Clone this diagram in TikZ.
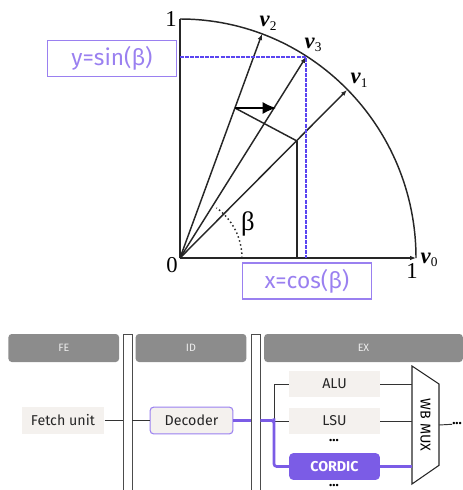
\documentclass[tikz,border=0pt]{standalone}
\usepackage{xcolor}
\usepackage{fontspec}
\setmainfont{Liberation Serif}
\setsansfont{Fira Sans}
\usepackage{tikz}
\usetikzlibrary{arrows.meta,positioning,calc}
\definecolor{CordicPurple}{HTML}{7B5CE6}
\definecolor{LabelPurple}{HTML}{9A80F0}
\definecolor{StageGray}{HTML}{8C8C8C}
\definecolor{UnitLight}{HTML}{F4F1EE}
\definecolor{GuideBlue}{HTML}{5A45F0}
\newcommand{\vlabel}[1]{\textbf{\textit{v}}\raisebox{-0.35ex}{\normalsize #1}}

\begin{document}
\begin{tikzpicture}[
  x=0.75pt, y=-0.75pt,
  vec/.style={-{Latex[length=4.5pt,width=3.5pt]}, line width=1.1pt, draw=black!85},
  line/.style={line width=1.1pt, draw=black!85},
  guide/.style={line width=1pt, draw=GuideBlue, dashed, dash pattern=on 3pt off 0.8pt},
  mathlabel/.style={font=\fontsize{17}{19}\selectfont, inner sep=0pt},
  valuebox/.style={draw=LabelPurple, line width=1pt, text=LabelPurple, font=\sffamily\fontsize{17}{19}\selectfont, minimum width=97pt, minimum height=27pt, inner sep=0pt},
  stage/.style={fill=StageGray, text=white!85!StageGray, rounded corners=2.5pt, font=\sffamily\footnotesize, minimum height=21pt, inner sep=0pt},
  pipereg/.style={draw=black!70, fill=white, line width=0.7pt, minimum width=6.75pt, minimum height=117pt, inner sep=0pt},
  unit/.style={fill=UnitLight, font=\sffamily\fontsize{10.7}{12}\selectfont, text=black!85, minimum width=62pt, minimum height=20pt, inner sep=0pt},
  link/.style={line width=0.7pt, draw=black!80},
  hot/.style={line width=2pt, draw=CordicPurple, rounded corners=2pt},
  dotsl/.style={font=\sffamily\bfseries\normalsize, inner sep=0pt}
]
\useasboundingbox (0,0) rectangle (463,490);

\coordinate (origin) at (180,258);
\coordinate (top) at (180,19);
\coordinate (v0) at (416,258);
\coordinate (v1) at (347,90);
\coordinate (v2) at (262,34);
\coordinate (v3) at (306,57);
\coordinate (foot) at (297,141);
\coordinate (drop) at (297,258);
\coordinate (perp) at (235,108);
\coordinate (perptip) at (276,108);
\coordinate (sinstart) at (180,57);
\coordinate (cosend) at (306,258);

\draw[line] (v0) arc[x radius=236, y radius=-239, start angle=0, end angle=90];
\draw[line] (origin) -- (top);
\draw[vec] (origin) -- (v0);
\draw[vec] (origin) -- (v1);
\draw[vec] (origin) -- (v2);
\draw[vec] (origin) -- (v3);
\draw[line] (perp) -- (foot);
\draw[line] (foot) -- (drop);
\draw[-{Latex[length=10pt,width=9pt]}, line width=1.1pt] (perp) -- (perptip);
\draw[line, dotted] (242,258) arc[radius=62, start angle=0, end angle=-54];
\draw[guide] (sinstart) -- (v3) -- (cosend);

\node[mathlabel] (one-y) at (171,19) {1};
\node[mathlabel] (zero) at (172,265) {0};
\node[mathlabel] (one-x) at (412,271) {1};
\node[mathlabel, font=\fontsize{20}{22}\selectfont] (beta) at (248,224) {β};
\node[mathlabel] (v0-label) at (429,260) {\vlabel{0}};
\node[mathlabel] (v1-label) at (359,80) {\vlabel{1}};
\node[mathlabel] (v2-label) at (268,23) {\vlabel{2}};
\node[mathlabel] (v3-label) at (313,45) {\vlabel{3}};

\node[valuebox] (sinbox) at (112,58.5) {y=sin(β)};
\node[valuebox] (cosbox) at (307,281) {x=cos(β)};

\node[stage, minimum width=83pt] (fe) at (63.75,348) {FE};
\node[stage, minimum width=83pt] (id) at (191,348) {ID};
\node[stage, minimum width=149pt] (ex) at (363.5,348) {EX};

\node[pipereg] (reg1) at (127.5,412) {};
\node[pipereg] (reg2) at (255.5,412) {};

\node[unit] (fetch) at (63,420.5) {Fetch unit};
\node[unit, draw=LabelPurple, line width=0.8pt, rounded corners=2.5pt] (decoder) at (191.5,420.5) {Decoder};
\node[unit, minimum width=68pt] (alu) at (334.5,384) {ALU};
\node[unit, minimum width=68pt] (lsu) at (334.5,421) {LSU};
\node[unit, minimum width=68pt, fill=CordicPurple, text=white, rounded corners=3pt, font=\sffamily\bfseries\fontsize{10.7}{12}\selectfont] (cordic) at (334.5,466.5) {CORDIC};
\node[dotsl] (dots-a) at (334,441) {...};
\node[dotsl] (dots-b) at (334,486) {...};

\node[minimum width=20.25pt, minimum height=88.5pt, inner sep=0pt, outer sep=0pt, font=\sffamily\fontsize{10.7}{12}\selectfont] (mux) at (425.5,425) {\rotatebox{-90}{WB MUX}};
\draw[line width=0.8pt, draw=black!85] (mux.north west) -- ([yshift=-13.5pt]mux.north east) -- ([yshift=14pt]mux.south east) -- (mux.south west) -- cycle;
\node[dotsl, anchor=west] (dots-c) at (452,424) {...};

\coordinate (branch) at (274,421);

\draw[link] (fetch) -- (reg1.west |- fetch);
\draw[link] (reg1.east |- fetch) -- (decoder);
\draw[link] (branch) |- (alu);
\draw[link] (branch) -- (lsu);
\draw[link] (alu) -- (alu -| mux.west);
\draw[link] (lsu) -- (lsu -| mux.west);
\draw[link] (mux.east) -- (dots-c);
\draw[hot] (decoder.east) -- (reg2.west |- decoder);
\draw[hot] (reg2.east |- decoder) -| (branch) |- (cordic.west);
\draw[hot] (cordic) -- (cordic -| mux.west);
\end{tikzpicture}
\end{document}
